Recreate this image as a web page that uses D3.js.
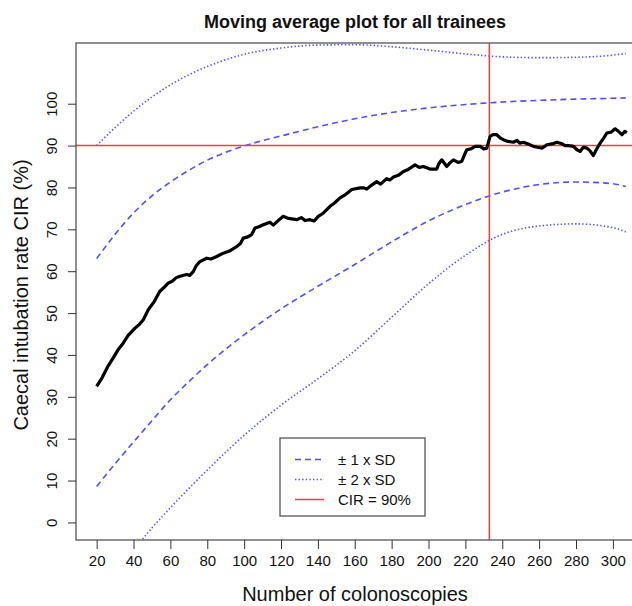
<!DOCTYPE html>
<head>
<meta charset="utf-8">
<script src="https://d3js.org/d3.v7.min.js"></script>
<style>
  body { margin: 0; background: #fff; }
  text { font-family: "Liberation Sans", Arial, sans-serif; fill: #111; }
</style>
</head>
<body>
<div id="chart"></div>
<script>
// tick labels
var xTicks = [20, 40, 60, 80, 100, 120, 140, 160, 180, 200, 220, 240, 260, 280, 300];
var yTicks = [0, 10, 20, 30, 40, 50, 60, 70, 80, 90, 100];

// moving average of caecal intubation rate
var movingAvg = [[20,32.5],[23,34.6],[26,37.2],[29,39.3],[32,41.5],[34.4,42.8],[37,44.6],[40.8,46.4],[43,47.2],
  [45.3,48.4],[48,50.8],[51,52.6],[54.3,55.2],[56.5,56.1],[58.9,57.2],[61,57.6],[63,58.4],[65.2,58.8],[68.8,59.2],
  [70.5,59.0],[72.4,59.9],[74,61.3],[76,62.3],[79.7,63.1],[82,62.9],[85.1,63.5],[88.7,64.3],[92,64.8],[96,65.9],
  [98,66.6],[99.5,67.9],[102,68.2],[104,68.7],[105.9,70.3],[108,70.6],[110.4,71.1],[114,71.7],[115.8,71.0],
  [118,71.9],[121.2,73.1],[124,72.6],[128.5,72.3],[131,72.8],[133,72.1],[135.7,72.3],[138,72.0],[140.2,73.1],
  [143,73.9],[146.6,75.5],[149,76.3],[152,77.5],[155,78.3],[158.4,79.5],[162.9,79.9],[165,79.9],[166.5,79.6],
  [169,80.5],[171.9,81.4],[174,80.8],[177.3,82.1],[179,81.8],[181,82.5],[184,83.0],[186.4,83.8],[189,84.3],
  [192.7,85.4],[195,84.8],[197.2,85.0],[200.8,84.4],[204.5,84.4],[205.5,85.6],[207.2,86.6],[209.9,85.0],
  [211.5,85.8],[213.5,86.6],[216,86.0],[218,86.2],[219.5,87.8],[220.8,89.0],[223,89.2],[225.3,89.8],[228,89.8],
  [230,89.2],[231.6,89.4],[233.4,92.2],[235,92.6],[237,92.6],[239,91.8],[240.6,91.4],[243,91.0],[246,90.8],
  [248,91.2],[249.5,90.6],[251.5,90.8],[254,90.4],[256.9,89.8],[259,89.6],[261.5,89.4],[263,89.8],[264.2,90.2],
  [267,90.4],[269.6,90.8],[272,90.5],[274.1,90.0],[276,90.0],[278.6,89.8],[280.5,89.0],[282.2,88.6],[284,89.6],
  [285.9,89.4],[287.5,88.8],[289.4,87.6],[291,89.0],[293.1,90.6],[295,91.8],[296.7,93.0],[299,93.2],[301.2,94.0],
  [303,93.4],[304.9,92.6],[306.5,93.4],[307.6,93.1]];

// +/- 1 SD and +/- 2 SD bands
var upper1 = [[20,63.0],[30,68.8],[40,73.9],[50,78.0],[60,81.3],[70,84.1],[80,86.5],[90,88.4],[100,89.9],[110,91.2],
  [120,92.3],[140,94.5],[160,96.4],[180,97.9],[200,99.0],[220,99.8],[240,100.4],[260,100.8],[280,101.1],[300,101.3],[307,101.4]];
var lower1 = [[20,8.6],[30,14.0],[40,19.2],[50,24.3],[60,29.3],[70,33.6],[80,37.7],[100,44.8],[120,51.0],[140,56.4],
  [160,61.6],[180,67.0],[200,72.0],[220,75.9],[240,78.9],[260,80.7],[280,81.3],[300,80.9],[307,80.2]];
var upper2 = [[20,90.0],[30,94.3],[40,98.2],[50,101.6],[60,104.5],[70,106.9],[80,108.9],[90,110.5],[100,111.8],
  [120,113.3],[140,114.0],[160,114.1],[180,113.6],[200,112.8],[220,111.9],[240,111.2],[260,111.0],[280,111.1],[300,111.6],[307,112.0]];
var lower2 = [[38,-7.0],[44.4,-4.2],[50,-1.3],[60,3.5],[80,12.5],[100,20.8],[120,28.0],[140,34.3],[160,41.0],[180,49.0],
  [200,57.0],[220,63.8],[240,68.8],[260,70.8],[280,71.3],[300,70.4],[307,69.4]];

var targetCIR = 90;
var cutPoint = 233;

var width = 632, height = 606;
var plot = {left: 76, right: 635, top: 43, bottom: 540};

var svg = d3.select("#chart").append("svg")
    .attr("width", width)
    .attr("height", height);

var x = d3.scaleLinear().domain([8.8, 312]).range([plot.left, plot.right]);
var y = d3.scaleLinear().domain([-4.2, 114.5]).range([plot.bottom, plot.top]);

svg.append("clipPath").attr("id", "clip")
  .append("rect")
    .attr("x", plot.left).attr("y", plot.top)
    .attr("width", plot.right - plot.left).attr("height", plot.bottom - plot.top);

var g = svg.append("g").attr("clip-path", "url(#clip)");

var smooth = d3.line()
    .x(function (d) { return x(d[0]); })
    .y(function (d) { return y(d[1]); })
    .curve(d3.curveMonotoneX);

var jagged = d3.line()
    .x(function (d) { return x(d[0]); })
    .y(function (d) { return y(d[1]); });

var blue = "#5050ff";
var red = "#ff3a3a";

[upper2, lower2].forEach(function (s) {
  g.append("path").datum(s)
    .attr("d", smooth)
    .attr("fill", "none")
    .attr("stroke", blue)
    .attr("stroke-width", 1.6)
    .attr("stroke-dasharray", "1.4,2.2");
});

[upper1, lower1].forEach(function (s) {
  g.append("path").datum(s)
    .attr("d", smooth)
    .attr("fill", "none")
    .attr("stroke", blue)
    .attr("stroke-width", 1.6)
    .attr("stroke-dasharray", "6,4");
});

// reference lines
g.append("line")
    .attr("x1", plot.left).attr("x2", plot.right)
    .attr("y1", y(targetCIR)).attr("y2", y(targetCIR))
    .attr("stroke", red).attr("stroke-width", 1.5);
g.append("line")
    .attr("x1", x(cutPoint)).attr("x2", x(cutPoint))
    .attr("y1", plot.top).attr("y2", plot.bottom)
    .attr("stroke", red).attr("stroke-width", 1.5);

g.append("path").datum(movingAvg)
    .attr("d", jagged)
    .attr("fill", "none")
    .attr("stroke", "#000")
    .attr("stroke-width", 3.2)
    .attr("stroke-linejoin", "round");

// box
svg.append("rect")
    .attr("x", plot.left).attr("y", plot.top)
    .attr("width", plot.right - plot.left).attr("height", plot.bottom - plot.top)
    .attr("fill", "none").attr("stroke", "#555").attr("stroke-width", 1.3);

// x axis
var xAxis = svg.append("g")
    .attr("transform", "translate(0," + plot.bottom + ")")
    .call(d3.axisBottom(x).tickValues(xTicks).tickSize(9).tickPadding(6));
xAxis.select(".domain").remove();
xAxis.selectAll("line").attr("stroke", "#333");
xAxis.selectAll("text")
    .style("font-family", "Liberation Sans, Arial, sans-serif")
    .style("font-size", "15px").attr("fill", "#111");

// y axis with rotated labels
var yAxis = svg.append("g")
    .attr("transform", "translate(" + plot.left + ",0)")
    .call(d3.axisLeft(y).tickValues(yTicks).tickSize(8).tickFormat(d3.format("d")));
yAxis.select(".domain").remove();
yAxis.selectAll("line").attr("stroke", "#333");
yAxis.selectAll("text")
    .attr("x", null).attr("dy", null)
    .attr("transform", "translate(-19,0) rotate(-90)")
    .attr("text-anchor", "middle")
    .style("font-family", "Liberation Sans, Arial, sans-serif")
    .style("font-size", "15px").attr("fill", "#111");

// titles
svg.append("text")
    .attr("x", 355).attr("y", 28)
    .attr("text-anchor", "middle")
    .style("font-size", "18px").style("font-weight", "bold")
    .text("Moving average plot for all trainees");

svg.append("text")
    .attr("x", 355).attr("y", 601)
    .attr("text-anchor", "middle")
    .style("font-size", "20px")
    .text("Number of colonoscopies");

svg.append("text")
    .attr("transform", "translate(28,295) rotate(-90)")
    .attr("text-anchor", "middle")
    .style("font-size", "20px")
    .text("Caecal intubation rate CIR (%)");

// legend
var legendItems = ["\u00b1 1 x SD", "\u00b1 2 x SD", "CIR = 90%"];
var legendStyles = [
  {stroke: blue, dash: "6,4", w: 1.6},
  {stroke: blue, dash: "1.4,2.2", w: 1.6},
  {stroke: red, dash: null, w: 1.5}
];
var leg = svg.append("g");
leg.append("rect")
    .attr("x", 280).attr("y", 438).attr("width", 145).attr("height", 78)
    .attr("fill", "#fff").attr("stroke", "#555").attr("stroke-width", 1.3);
legendItems.forEach(function (label, i) {
  var by = 465 + i * 20;
  leg.append("line")
      .attr("x1", 295).attr("x2", 324)
      .attr("y1", by - 5.5).attr("y2", by - 5.5)
      .attr("stroke", legendStyles[i].stroke)
      .attr("stroke-width", legendStyles[i].w)
      .attr("stroke-dasharray", legendStyles[i].dash);
  leg.append("text")
      .attr("x", 338).attr("y", by)
      .style("font-size", "15px")
      .text(label);
});
</script>
</body>
